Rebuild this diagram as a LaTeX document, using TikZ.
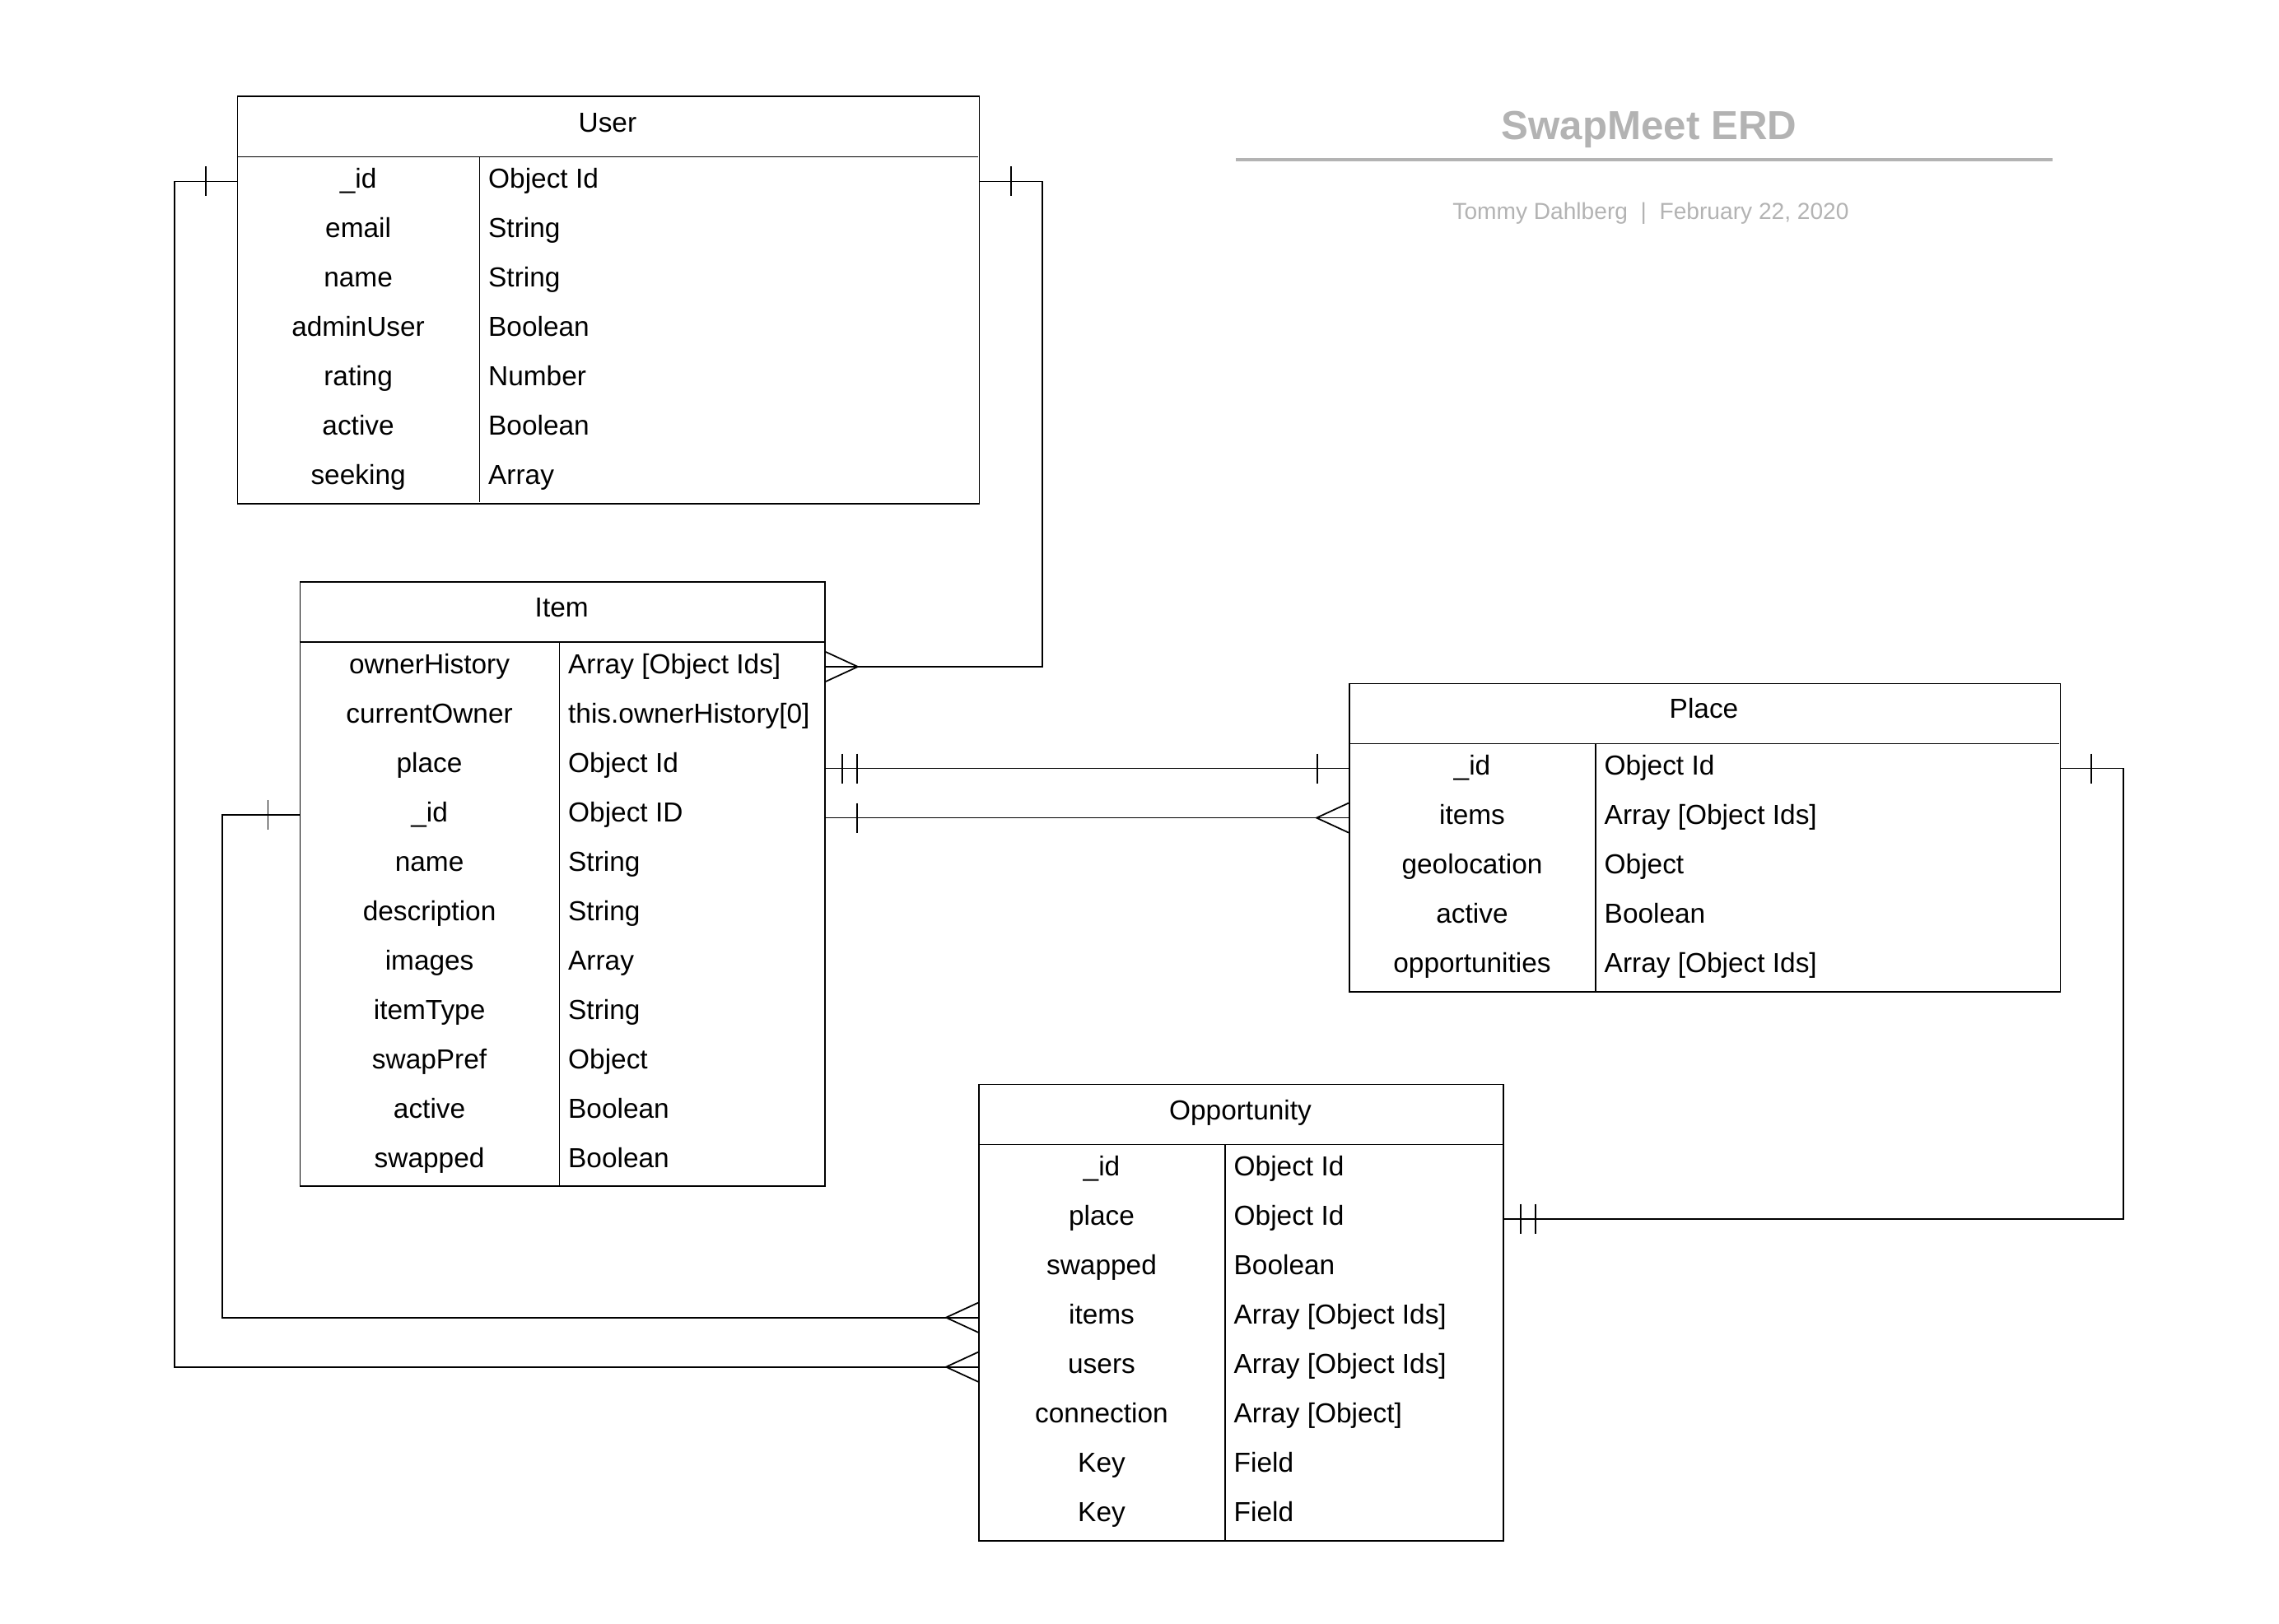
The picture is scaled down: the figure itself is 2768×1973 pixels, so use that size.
\documentclass[tikz,border=0pt]{standalone}
\usepackage{fontspec}
\setmainfont{Liberation Sans}
\usetikzlibrary{calc}
\usetikzlibrary{positioning}
\definecolor{title-grey}{RGB}{179, 179, 179}

\tikzset{
    entity/.style={draw=black, line width=0.5pt, anchor=north west, inner sep=0pt},
    header/.style={font=\fontsize{9.5}{11}\selectfont, inner sep=0pt, text height=6.8pt, text depth=2.2pt},
    fieldname/.style={font=\fontsize{9.5}{11}\selectfont, inner sep=0pt, text height=6.8pt, text depth=2.2pt},
    fieldtype/.style={fieldname, anchor=west},
    link/.style={draw=black, line width=0.5pt},
    titletext/.style={font=\fontsize{14}{16}\selectfont\bfseries, text=title-grey, anchor=base, inner sep=0pt},
    byline/.style={font=\fontsize{8}{10}\selectfont, text=title-grey, anchor=base, inner sep=0pt},
    onebar/.pic={\draw[line width=0.5pt] (0, -18) -- (0, 18);},
    twobar/.pic={\draw[line width=0.5pt] (20, -18) -- (20, 18); \draw[line width=0.4pt] (38, -18) -- (38, 18);},
    manyfoot/.pic={\draw[line width=0.5pt] (0, -18) -- (-39, 0) -- (0, 18);}
}

\begin{document}
\begin{tikzpicture}[x=0.01cm, y=-0.01cm]
    \useasboundingbox (0, 0) rectangle (2768, 1973);

    % title block
    \node[titletext] (title) at (2003, 170) {SwapMeet ERD};
    \draw[title-grey, line width=1.1pt] (1501, 194) -- (2493, 194);
    \node[byline] (author) at (2005, 267) {Tommy Dahlberg~~|~~February 22, 2020};

    % User
    \node[entity, minimum width=9.003cm, minimum height=4.94cm] (user) at (287.7, 116.5) {};
    \draw (287.7, 190.5) -- (1188, 190.5);
    \draw (582.5, 190.5) -- (582.5, 610.5);
    \node[header] (user-head) at (737.9, 152.5) {User};
    \foreach \f/\t [count=\i] in {\_id/Object Id, email/String, name/String, adminUser/Boolean, rating/Number, active/Boolean, seeking/Array}
    {
        \node[fieldname] (u\i) at (435.1, 160.5+60*\i) {\f};
        \node[fieldtype] (ut\i) at (592.5, 160.5+60*\i) {\t};
    }

    % Item
    \node[entity, minimum width=6.372cm, minimum height=7.34cm] (item) at (363.6, 706) {};
    \draw (363.6, 780) -- (1000.8, 780);
    \draw (679.5, 780) -- (679.5, 1440);
    \node[header] (item-head) at (682.2, 741) {Item};
    \foreach \f/\t [count=\i] in {ownerHistory/Array [Object Ids], currentOwner/this.ownerHistory[0], place/Object Id, \_id/Object ID, name/String, description/String, images/Array, itemType/String, swapPref/Object, active/Boolean, swapped/Boolean}
    {
        \node[fieldname] (i\i) at (521.6, 750+60*\i) {\f};
        \node[fieldtype] (it\i) at (689.5, 750+60*\i) {\t};
    }

    % Place
    \node[entity, minimum width=8.63cm, minimum height=3.74cm] (place) at (1638, 829.6) {};
    \draw (1638, 903.6) -- (2501, 903.6);
    \draw (1938, 903.6) -- (1938, 1203.6);
    \node[header] (place-head) at (2069.5, 864.6) {Place};
    \foreach \f/\t [count=\i] in {\_id/Object Id, items/Array [Object Ids], geolocation/Object, active/Boolean, opportunities/Array [Object Ids]}
    {
        \node[fieldname] (p\i) at (1788, 873.6+60*\i) {\f};
        \node[fieldtype] (pt\i) at (1948, 873.6+60*\i) {\t};
    }

    % Opportunity
    \node[entity, minimum width=6.37cm, minimum height=5.54cm] (opp) at (1188, 1316.7) {};
    \draw (1188, 1390.7) -- (1825, 1390.7);
    \draw (1488, 1390.7) -- (1488, 1870.7);
    \node[header] (opp-head) at (1506.5, 1352.7) {Opportunity};
    \foreach \f/\t [count=\i] in {\_id/Object Id, place/Object Id, swapped/Boolean, items/Array [Object Ids], users/Array [Object Ids], connection/Array [Object], Key/Field, Key/Field}
    {
        \node[fieldname] (o\i) at (1338, 1360.7+60*\i) {\f};
        \node[fieldtype] (ot\i) at (1498, 1360.7+60*\i) {\t};
    }

    % relations
    \draw[link] (u1 -| user.west) -- ++(-76, 0) |- (o5 -| opp.west);
    \pic at ($(u1 -| user.west)+(-38, 0)$) {onebar};
    \pic at (o5 -| opp.west) {manyfoot};

    \draw[link] (u1 -| user.east) -- ++(76, 0) |- (i1 -| item.east);
    \pic at ($(u1 -| user.east)+(38, 0)$) {onebar};
    \pic[rotate=180] at (i1 -| item.east) {manyfoot};

    \draw[link] (p1 -| item.east) -- (p1 -| place.west);
    \pic at (p1 -| item.east) {twobar};
    \pic at ($(p1 -| place.west)+(-38, 0)$) {onebar};

    \draw[link] (p2 -| item.east) -- (p2 -| place.west);
    \pic at ($(p2 -| item.east)+(38, 0)$) {onebar};
    \pic at (p2 -| place.west) {manyfoot};

    \draw[link] (i4 -| item.west) -- ++(-93.6, 0) |- (o4 -| opp.west);
    \pic at ($(i4 -| item.west)+(-38, 0)$) {onebar};
    \pic at (o4 -| opp.west) {manyfoot};

    \draw[link] (p1 -| place.east) -- ++(76, 0) |- (o2 -| opp.east);
    \pic at ($(p1 -| place.east)+(37, 0)$) {onebar};
    \pic at (o2 -| opp.east) {twobar};
\end{tikzpicture}
\end{document}
